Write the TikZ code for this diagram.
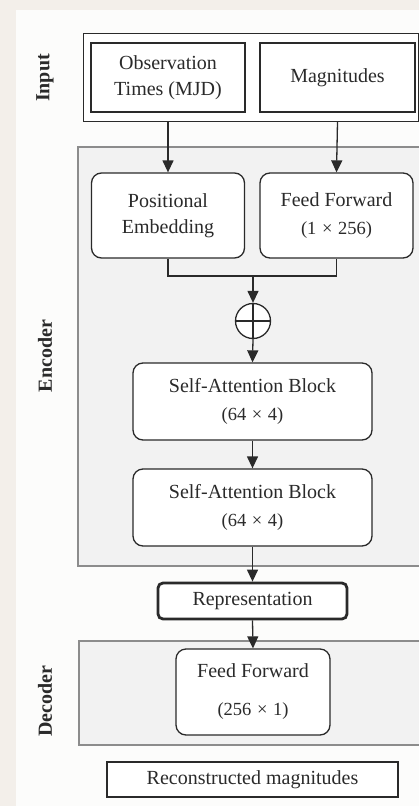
\documentclass[tikz,border=0pt]{standalone}
\usepackage{fontspec}
\setmainfont{Liberation Serif}
\usetikzlibrary{arrows.meta}
\definecolor{paper}{HTML}{F3EFEA}
\definecolor{panel}{HTML}{FCFCFB}
\definecolor{ink}{HTML}{2A2A2A}
\definecolor{groupfill}{HTML}{F2F2F2}
\definecolor{groupline}{HTML}{8C8C8C}
\newcommand\dimfont{\fontsize{18.5}{22}\selectfont}
\newcommand\by{\hspace{0.3em}×\hspace{0.3em}}
\tikzset{
  txt/.style={font=\fontsize{20}{26}\selectfont, text=ink, align=center},
  sqbox/.style={txt, draw=ink, line width=1.4pt, fill=white, inner sep=0pt},
  rbox/.style={txt, draw=ink, line width=1.3pt, fill=white, rounded corners=10pt, inner sep=0pt},
  reprbox/.style={txt, draw=ink, line width=2.8pt, fill=white, rounded corners=5pt, inner sep=0pt},
  group/.style={draw=groupline, fill=groupfill, line width=1.2pt},
  side/.style={font=\fontsize{20}{24}\selectfont\bfseries, text=ink, rotate=90},
  flow/.style={draw=ink, line width=1.3pt, -{Triangle[length=12pt,width=11pt]}},
  wire/.style={draw=ink, line width=1.3pt},
}
\begin{document}
\begin{tikzpicture}[x=1pt, y=-1pt]
  \useasboundingbox (0,0) rectangle (419,806);
  % backdrop
  \fill[paper] (0,0) rectangle (419,806);
  \fill[panel] (16,10) rectangle (419,806);

  % section frames (open to the right)
  \path[group] (78,147) rectangle (430,566);
  \path[group] (79,641) rectangle (430,745);

  % section titles
  \node[side] (tin)  at (45,78)  {Input};
  \node[side] (tenc) at (45,356) {Encoder};
  \node[side] (tdec) at (45,701) {Decoder};

  % input block
  \node[draw=ink, line width=1.4pt, fill=white, minimum width=335pt, minimum height=88pt, inner sep=0pt] (inbox) at (251,77.5) {};
  \node[sqbox, minimum width=154pt, minimum height=69pt] (obs) at (168,77.5) {Observation\\Times (MJD)};
  \node[sqbox, minimum width=155pt, minimum height=69pt] (mag) at (337.5,77.5) {Magnitudes};

  % encoder
  \node[rbox, minimum width=153pt, minimum height=85pt] (pe) at (168,215.5) {Positional\\Embedding};
  \node[rbox, minimum width=153pt, minimum height=85pt] (ff) at (336.5,215.5) {Feed Forward\\[2pt]{\dimfont(1\by256)}};
  \node[circle, draw=ink, line width=1.3pt, fill=white, minimum size=35pt, inner sep=0pt] (sum) at (253,321) {};
  \draw[wire] (sum.north) -- (sum.south) (sum.west) -- (sum.east);
  \node[rbox, minimum width=239pt, minimum height=77pt] (sa1) at (252.5,401.5) {Self-Attention Block\\[2pt]{\dimfont(64\by4)}};
  \node[rbox, minimum width=239pt, minimum height=77pt] (sa2) at (252.5,507.5) {Self-Attention Block\\[2pt]{\dimfont(64\by4)}};

  % representation
  \node[reprbox, minimum width=189pt, minimum height=36pt] (rep) at (252.5,601) {Representation};

  % decoder
  \node[rbox, minimum width=154pt, minimum height=86pt] (dff) at (253,692) {Feed Forward\\[12pt]{\dimfont(256\by1)}};

  % output
  \node[draw=ink, line width=1.3pt, fill=white, minimum width=291pt, minimum height=35pt, inner sep=0pt, txt] (out) at (252.5,779.5) {Reconstructed magnitudes};

  % connectors
  \draw[flow] (obs.south |- inbox.south) -- (pe.north);
  \draw[flow] (mag.south |- inbox.south) -- (ff.north);
  \coordinate (join) at (253,276);
  \draw[wire] (pe.south) |- (join) -| (ff.south);
  \draw[flow] (join) -- (sum.north);
  \draw[flow] (sum.south) -- (sa1.north);
  \draw[flow] (sa1.south) -- (sa2.north);
  \draw[flow] (sa2.south) -- (rep.north);
  \draw[flow] (rep.south) -- (dff.north);
\end{tikzpicture}
\end{document}
